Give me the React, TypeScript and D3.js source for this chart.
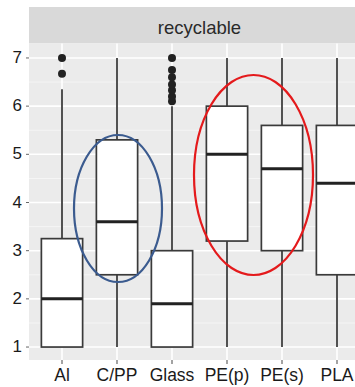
import React from 'react';
import * as d3 from 'd3';

// values
const categories = ['Al', 'C/PP', 'Glass', 'PE(p)', 'PE(s)', 'PLA'];
const whiskerLow = [1, 1, 1, 1, 1, 1];
const q1 = [1, 2.5, 1, 3.2, 3, 2.5];
const median = [2, 3.6, 1.9, 5.0, 4.7, 4.4];
const q3 = [3.25, 5.3, 3, 6, 5.6, 5.6];
const whiskerHigh = [6.35, 7, 6, 7, 7, 7];
const outliers = [[6.67, 7], [], [6.1, 6.2, 6.33, 6.45, 6.6, 6.75, 7], [], [], []];
const yTicks = [1, 2, 3, 4, 5, 6, 7];
const stripLabel = 'recyclable';

const W = 355;
const H = 387;
const panel = { left: 29, right: 370, top: 43.5, bottom: 360 };
const stripTop = 7;

export default function App() {
  const x = d3.scalePoint<string>()
    .domain(categories)
    .range([panel.left, panel.right])
    .padding(0.6);
  const y = d3.scaleLinear().domain([0.7, 7.3]).range([361.5, 43.5]);
  const boxW = x.step() * 0.75;
  const minor = d3.range(1.5, 7.3, 1);
  const font = 'Liberation Sans, Arial, sans-serif';

  return (
    <svg width={W} height={H} style={{ position: 'absolute', left: 0, top: 0, background: '#fff' }}>
      <defs>
        <clipPath id="clip">
          <rect x={0} y={0} width={W} height={H} />
        </clipPath>
      </defs>
      <g clipPath="url(#clip)">
        {/* strip */}
        <rect x={panel.left} y={stripTop} width={panel.right - panel.left} height={panel.top - stripTop} fill="#d9d9d9" />
        <text x={(panel.left + panel.right) / 2} y={34} textAnchor="middle"
          fontFamily={font} fontSize={18.5} fill="#2a2a2a">{stripLabel}</text>

        {/* panel */}
        <rect x={panel.left} y={panel.top} width={panel.right - panel.left} height={panel.bottom - panel.top} fill="#ebebeb" />
        {minor.map(v => (
          <line key={'mn' + v} x1={panel.left} x2={panel.right} y1={y(v)} y2={y(v)} stroke="#f7f7f7" strokeWidth={0.8} />
        ))}
        {yTicks.map(v => (
          <line key={'mj' + v} x1={panel.left} x2={panel.right} y1={y(v)} y2={y(v)} stroke="#fff" strokeWidth={1.6} />
        ))}
        {categories.map(c => (
          <line key={'vg' + c} x1={x(c)} x2={x(c)} y1={panel.top} y2={panel.bottom} stroke="#fff" strokeWidth={1.6} />
        ))}

        {/* boxes */}
        {categories.map((c, i) => {
          const cx = x(c) as number;
          return (
            <g key={'b' + c}>
              <line x1={cx} x2={cx} y1={y(whiskerLow[i])} y2={y(q1[i])} stroke="#333" strokeWidth={1.7} />
              <line x1={cx} x2={cx} y1={y(q3[i])} y2={y(whiskerHigh[i])} stroke="#333" strokeWidth={1.7} />
              <rect x={cx - boxW / 2} y={y(q3[i])} width={boxW} height={y(q1[i]) - y(q3[i])}
                fill="#fff" stroke="#3a3a3a" strokeWidth={1.7} />
              <line x1={cx - boxW / 2} x2={cx + boxW / 2} y1={y(median[i])} y2={y(median[i])} stroke="#222" strokeWidth={3} />
              {outliers[i].map((o, j) => (
                <circle key={j} cx={cx} cy={y(o)} r={4} fill="#222" />
              ))}
            </g>
          );
        })}

        {/* highlight ellipses */}
        <ellipse cx={118} cy={208.5} rx={44} ry={73.5} fill="none" stroke="#3b5b8f" strokeWidth={2.2} />
        <ellipse cx={253.5} cy={175} rx={59.5} ry={100} fill="none" stroke="#e41a1c" strokeWidth={2.2} />

        {/* y axis */}
        {yTicks.map(v => (
          <g key={'yt' + v}>
            <line x1={panel.left - 3} x2={panel.left} y1={y(v)} y2={y(v)} stroke="#666" strokeWidth={1} />
            <text x={22} y={y(v)} dy="0.3em" textAnchor="end" fontFamily={font} fontSize={17} fill="#1a1a1a">{v}</text>
          </g>
        ))}
        {/* x axis */}
        {categories.map(c => (
          <g key={'xt' + c}>
            <line x1={x(c)} x2={x(c)} y1={panel.bottom} y2={panel.bottom + 4} stroke="#666" strokeWidth={1.2} />
            <text x={x(c)} y={380.5} textAnchor="middle" fontFamily={font} fontSize={17.5} fill="#1a1a1a">{c}</text>
          </g>
        ))}
      </g>
    </svg>
  );
}
